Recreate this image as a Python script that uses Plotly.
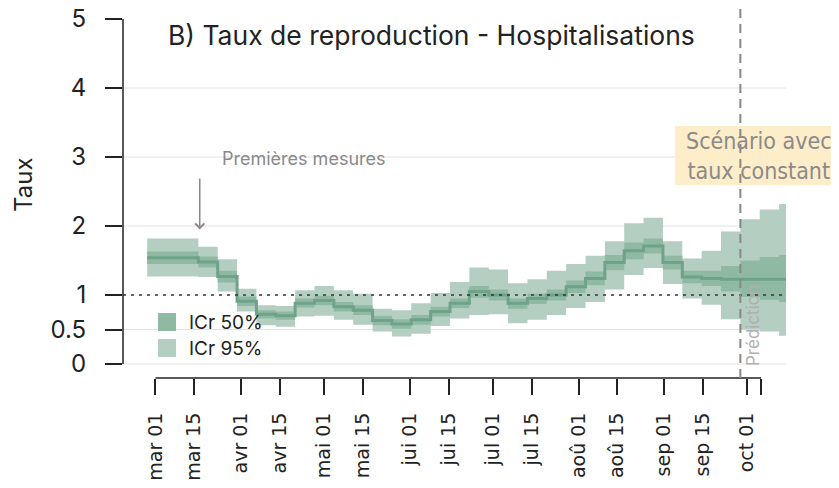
import plotly.graph_objects as go
import pandas as pd

# ---- data (weekly step estimates of the reproduction rate) ----
first_start = "2020-02-27"
weekly_start = "2020-03-16 12:00"
end_date = "2020-10-15"
n_weekly = 31

lo95 = [1.27, 1.26, 1.05, 0.76, 0.56, 0.54, 0.69, 0.70, 0.64, 0.57, 0.47, 0.40, 0.44, 0.55, 0.66, 0.71,
        0.72, 0.59, 0.64, 0.71, 0.81, 0.90, 1.08, 1.29, 1.39, 1.16, 0.95, 0.86, 0.65, 0.50, 0.47, 0.41]
lo50 = [1.45, 1.40, 1.18, 0.84, 0.66, 0.64, 0.82, 0.85, 0.76, 0.71, 0.56, 0.51, 0.57, 0.69, 0.81, 0.96,
        0.92, 0.80, 0.87, 0.92, 1.03, 1.14, 1.36, 1.52, 1.60, 1.37, 1.17, 1.13, 1.05, 0.97, 0.93, 0.90]
median = [1.54, 1.48, 1.27, 0.91, 0.72, 0.70, 0.88, 0.92, 0.83, 0.78, 0.63, 0.58, 0.64, 0.76, 0.88, 1.05,
          1.00, 0.88, 0.95, 1.00, 1.12, 1.24, 1.47, 1.64, 1.71, 1.47, 1.26, 1.24, 1.23, 1.23, 1.23, 1.23]
hi50 = [1.63, 1.56, 1.35, 0.98, 0.78, 0.76, 0.95, 0.99, 0.90, 0.85, 0.70, 0.65, 0.71, 0.83, 0.95, 1.13,
        1.08, 0.95, 1.02, 1.08, 1.21, 1.34, 1.58, 1.76, 1.82, 1.57, 1.35, 1.35, 1.42, 1.50, 1.55, 1.58]
hi95 = [1.82, 1.70, 1.52, 1.09, 0.85, 0.84, 1.07, 1.13, 1.07, 1.02, 0.80, 0.78, 0.88, 1.03, 1.19, 1.40,
        1.37, 1.17, 1.23, 1.35, 1.45, 1.57, 1.78, 2.04, 2.12, 1.78, 1.53, 1.64, 1.92, 2.10, 2.24, 2.32]

tick_dates = ["2020-03-01", "2020-03-15", "2020-04-01", "2020-04-15", "2020-05-01", "2020-05-15",
              "2020-06-01", "2020-06-15", "2020-07-01", "2020-07-15", "2020-08-01", "2020-08-15",
              "2020-09-01", "2020-09-15", "2020-10-01", "2020-10-06"]
tick_labels = ["mar 01", "mar 15", "avr 01", "avr 15", "mai 01", "mai 15", "jui 01", "jui 15",
               "jul 01", "jul 15", "aoû 01", "aoû 15", "sep 01", "sep 15", "oct 01", ""]
y_ticks = [0, 0.5, 1, 2, 3, 4, 5]
y_labels = ["0", "0.5", "1", "2", "3", "4", "5"]
grid_vals = [0, 0.5, 2, 3, 4]
prediction_date = "2020-09-28 12:00"
measures_date = "2020-03-17"
axis_end_date = "2020-10-06"

# ---- build step x ----
starts = [pd.Timestamp(first_start)] + list(pd.date_range(weekly_start, periods=n_weekly, freq="7D"))
xs = starts + [pd.Timestamp(end_date)]
def ext(v):
    return v + [v[-1]]

C95 = "#b4cec1"
C50 = "#8fb9a3"
CMED = "#6fa389"
FONT = "Inter"

fig = go.Figure()
fig.add_trace(go.Scatter(x=xs, y=ext(lo95), mode="lines", line=dict(width=0, shape="hv"),
                         showlegend=False, hoverinfo="skip"))
fig.add_trace(go.Scatter(x=xs, y=ext(hi95), mode="lines", line=dict(width=0, shape="hv"),
                         fill="tonexty", fillcolor=C95, showlegend=False, hoverinfo="skip"))
fig.add_trace(go.Scatter(x=xs, y=ext(lo50), mode="lines", line=dict(width=0, shape="hv"),
                         showlegend=False, hoverinfo="skip"))
fig.add_trace(go.Scatter(x=xs, y=ext(hi50), mode="lines", line=dict(width=0, shape="hv"),
                         fill="tonexty", fillcolor=C50, showlegend=False, hoverinfo="skip"))
fig.add_trace(go.Scatter(x=xs, y=ext(median), mode="lines", line=dict(width=3, shape="hv", color=CMED),
                         showlegend=False, hoverinfo="skip"))

# page body has an 8px margin: lay out in screen pixels, then subtract it
OFF = 8
W, H = 839 - OFF, 488 - OFF
PL, PT, PW, PH = 123 - OFF, 19 - OFF, 663, 359
def px(x):
    return (x - OFF - PL) / PW
def py(y):
    return (PT + PH - (y - OFF)) / PH

shapes = []
for g in grid_vals:
    shapes.append(dict(type="line", xref="paper", yref="y", x0=0, x1=1, y0=g, y1=g,
                       line=dict(color="#e3e3e3", width=1), layer="below"))
# reference line at 1
shapes.append(dict(type="line", xref="paper", yref="y", x0=0, x1=1, y0=1, y1=1,
                   line=dict(color="#333333", width=1.5, dash="3px,5px"), layer="above"))
# y axis line (capped)
shapes.append(dict(type="line", xref="paper", yref="y", x0=0, x1=0, y0=0, y1=5,
                   line=dict(color="#222222", width=1.5)))
# x axis line (capped)
shapes.append(dict(type="line", xref="x", yref="paper", x0=tick_dates[0], x1=axis_end_date, y0=0, y1=0,
                   line=dict(color="#222222", width=1.5)))
# scenario box
shapes.append(dict(type="rect", xref="paper", yref="paper", x0=px(675), x1=px(845),
                   y0=py(185), y1=py(126),
                   fillcolor="#fdedc8", line=dict(width=0), layer="above"))
# prediction dashed line
shapes.append(dict(type="line", xref="x", yref="paper", x0=prediction_date, x1=prediction_date,
                   y0=0, y1=py(5),
                   line=dict(color="#888888", width=2, dash="9px,6px"), layer="above"))
# legend swatches
for i, col in enumerate([C50, C95]):
    shapes.append(dict(type="rect", xref="paper", yref="paper",
                       x0=px(158), x1=px(176),
                       y0=py(331 + 26 * i), y1=py(313 + 26 * i),
                       fillcolor=col, line=dict(width=0)))

def ann(text, x, y, size, color="#222222", family=FONT, xanchor="center", **kw):
    return dict(text=text, xref="paper", yref="paper", x=px(x), y=py(y), showarrow=False,
                xanchor=xanchor, yanchor="middle",
                font=dict(family=family, size=size, color=color), **kw)

annotations = [
    ann("B) Taux de reproduction - Hospitalisations", 431, 35, 26.5),
    ann("Taux", 23, 185, 24, textangle=-90),
    ann("Premières mesures", 304, 158, 18, color="#8a8a8a"),
    dict(text="", xref="x", yref="y", x=measures_date, y=1.95, ax=measures_date, ay=2.71,
         axref="x", ayref="y", showarrow=True, arrowhead=4, arrowsize=1.2, arrowwidth=1.5,
         arrowcolor="#888888"),
    ann("Scénario avec<br>taux constant", 759, 156, 23, color="#8a8a8a",
        family="DejaVu Sans Condensed, Liberation Sans Narrow, DejaVu Sans", align="center"),
    ann("Prédiction", 753, 326, 17, color="#b0b0b0", textangle=-90),
    ann("ICr 50%", 187, 322, 19, xanchor="left"),
    ann("ICr 95%", 187, 348, 19, xanchor="left"),
]

fig.update_layout(
    width=W, height=H,
    margin=dict(l=PL, r=W - PL - PW, t=PT, b=H - PT - PH, autoexpand=False),
    paper_bgcolor="white", plot_bgcolor="white",
    shapes=shapes, annotations=annotations,
    showlegend=False,
    xaxis=dict(type="date", range=["2020-02-18 06:00", end_date], showgrid=False, zeroline=False,
               showline=False, tickmode="array", tickvals=tick_dates, ticktext=tick_labels,
               ticks="outside", ticklen=16, tickwidth=1.5, tickcolor="#222222", tickangle=-90,
               ticklabelstandoff=10, automargin=False, ticklabeloverflow="allow",
               tickfont=dict(family="DejaVu Sans", size=19, color="#222222")),
    yaxis=dict(range=[-0.203, 5.001], showgrid=False, zeroline=False, showline=False,
               tickmode="array", tickvals=y_ticks, ticktext=y_labels,
               ticks="outside", ticklen=17, tickwidth=1.5, tickcolor="#222222",
               ticklabelstandoff=14, automargin=False, ticklabeloverflow="allow",
               tickfont=dict(family=FONT, size=24, color="#222222")),
)

fig.write_html("out.html")
